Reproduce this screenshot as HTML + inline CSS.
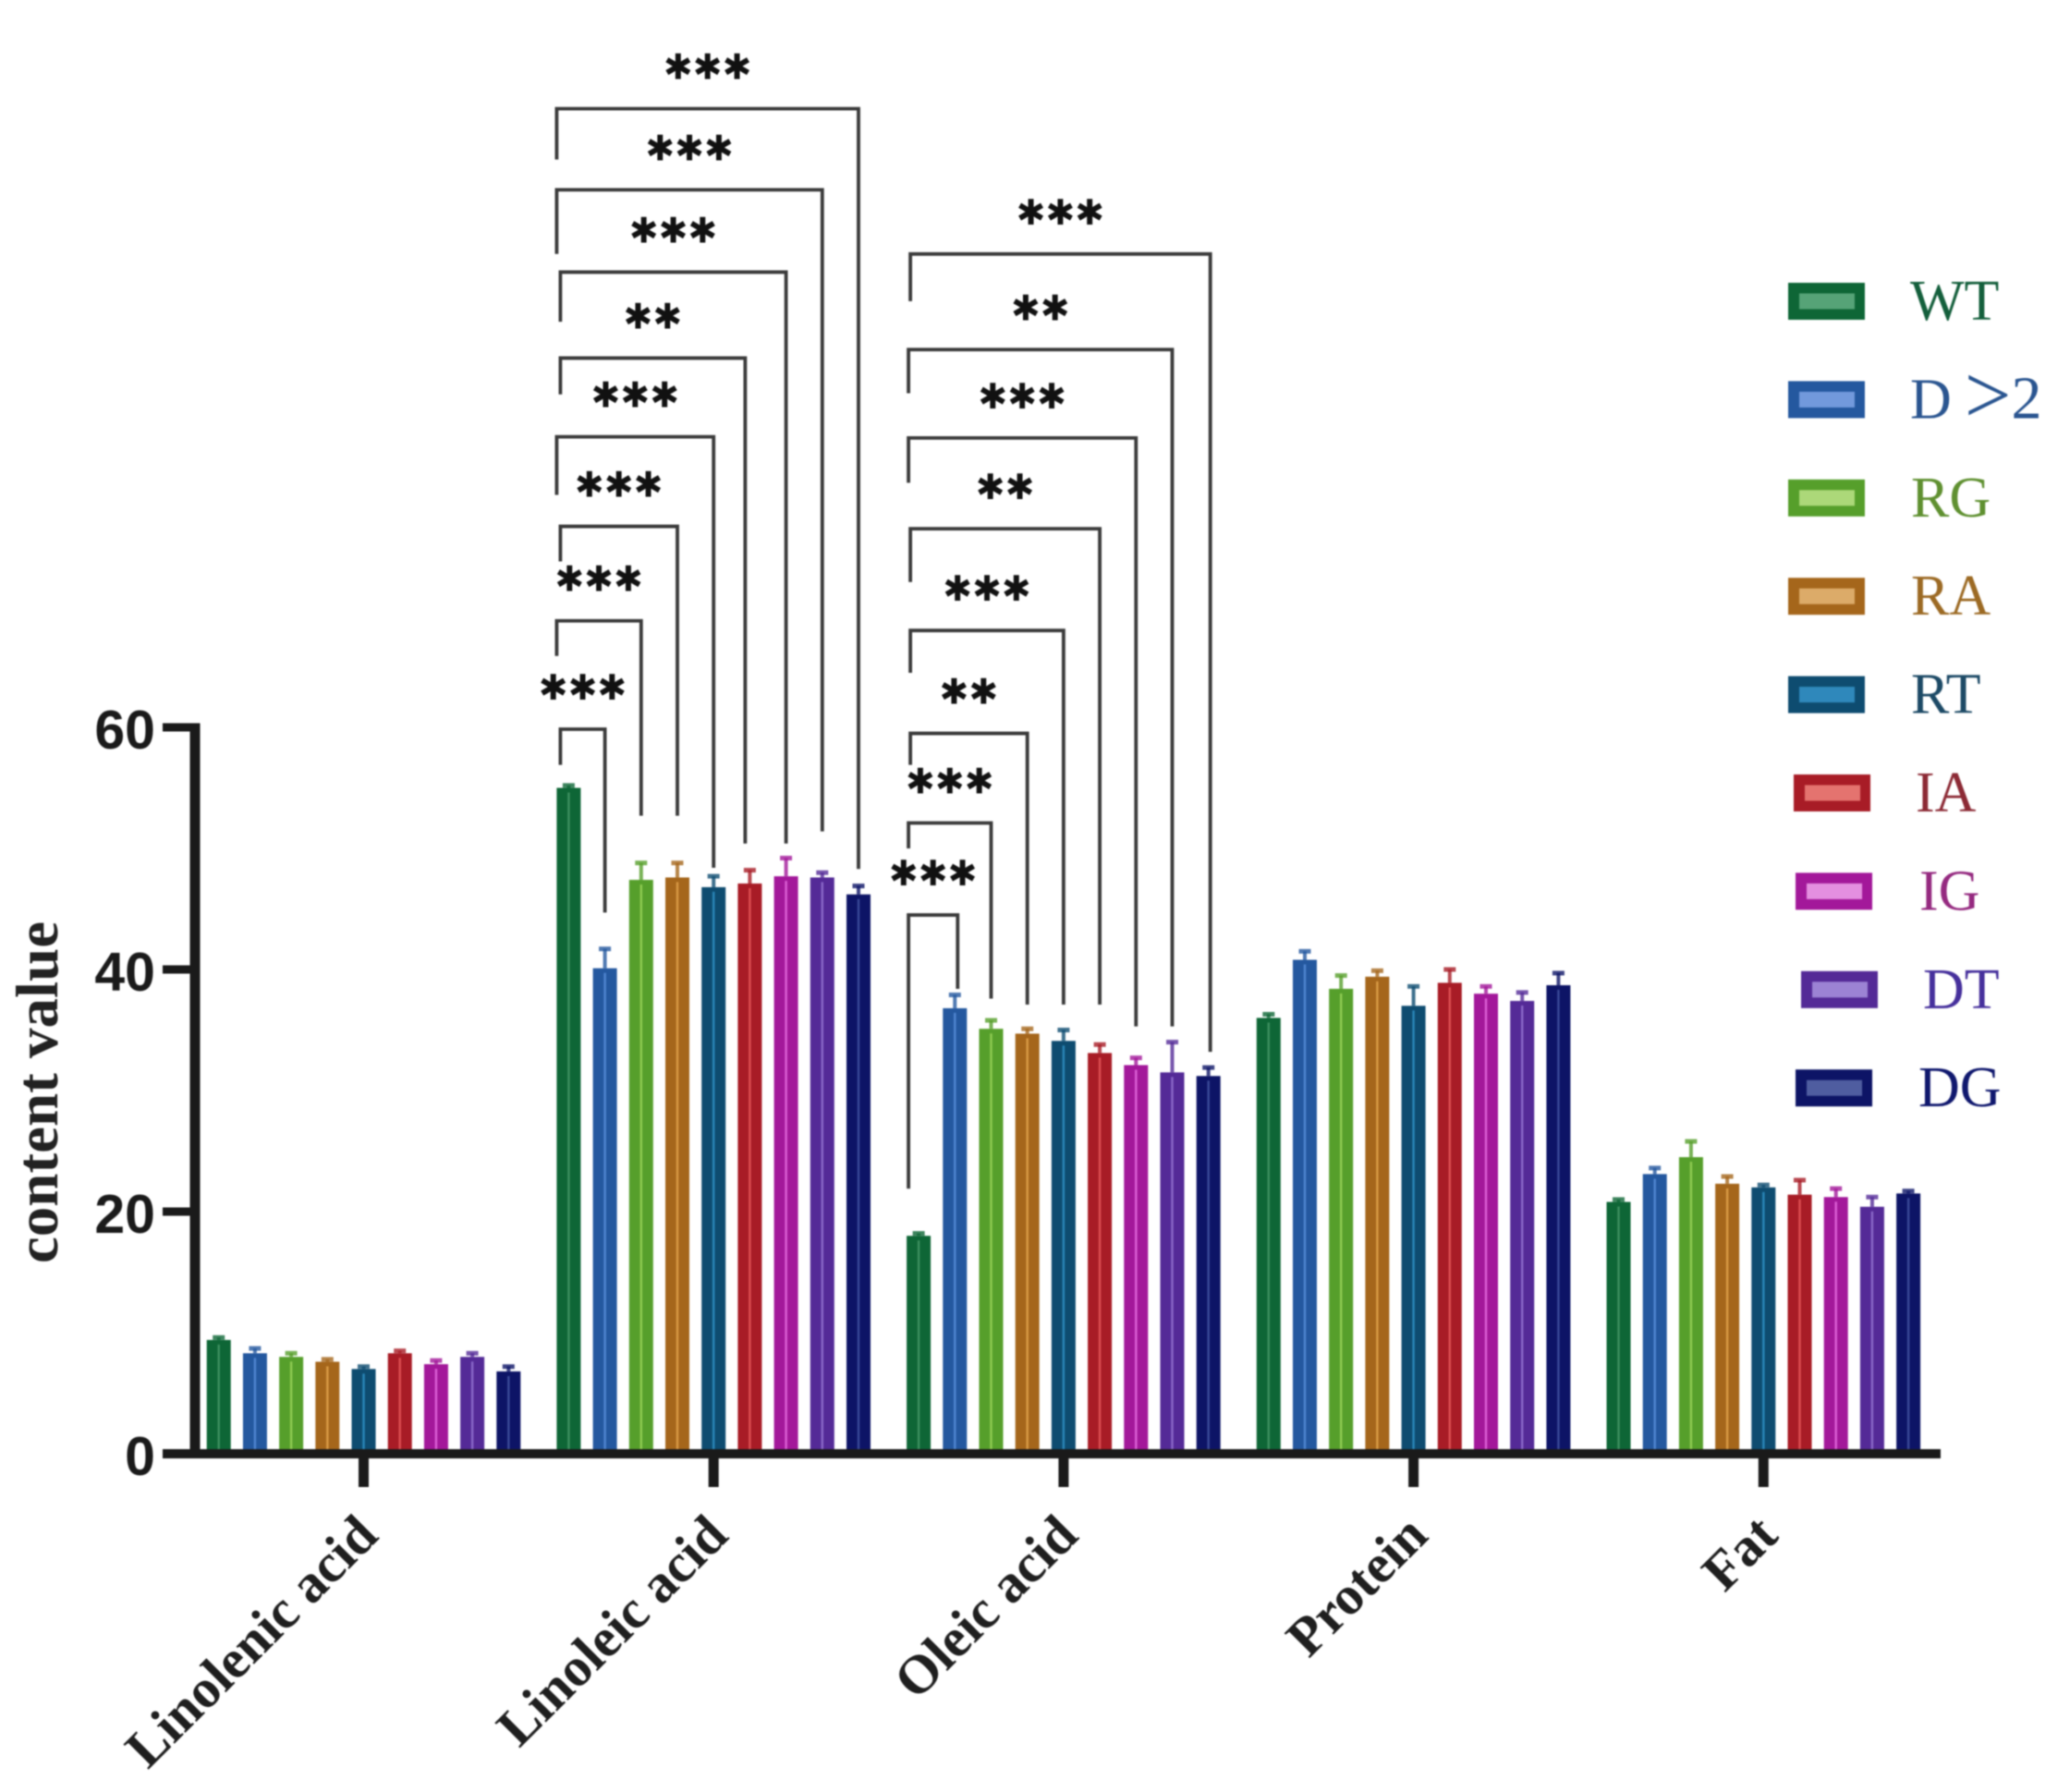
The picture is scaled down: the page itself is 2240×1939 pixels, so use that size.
<!DOCTYPE html>
<html lang="en">
<head>
<meta charset="utf-8">
<title>Content value bar chart</title>
<style>
html,body{margin:0;padding:0;background:#fff;width:2240px;height:1939px;overflow:hidden}
#chart{display:block;filter:blur(.7px)}
</style>
</head>
<body>
<svg id="chart" xmlns="http://www.w3.org/2000/svg" width="2240" height="1939" viewBox="0 0 2240 1939"></svg>
<script>
// ---- data ----
const categories = ['Linolenic acid', 'Linoleic acid', 'Oleic acid', 'Protein', 'Fat'];
const seriesNames = ['WT', 'D>2', 'RG', 'RA', 'RT', 'IA', 'IG', 'DT', 'DG'];
const yTicks = [0, 20, 40, 60];
const yLabels = ['0', '20', '40', '60'];

const valuesWT = [9.4, 55.0, 18.0, 36.0, 20.8];
const valuesD2 = [8.3, 40.1, 36.8, 40.8, 23.1];
const valuesRG = [8.0, 47.4, 35.1, 38.4, 24.5];
const valuesRA = [7.6, 47.6, 34.7, 39.4, 22.3];
const valuesRT = [7.0, 46.8, 34.1, 37.0, 22.0];
const valuesIA = [8.3, 47.1, 33.1, 38.9, 21.4];
const valuesIG = [7.4, 47.7, 32.1, 38.0, 21.2];
const valuesDT = [8.0, 47.6, 31.5, 37.4, 20.4];
const valuesDG = [6.8, 46.2, 31.2, 38.7, 21.5];

const errorsWT = [0.2, 0.2, 0.2, 0.3, 0.2];
const errorsD2 = [0.4, 1.6, 1.1, 0.7, 0.5];
const errorsRG = [0.3, 1.4, 0.7, 1.1, 1.3];
const errorsRA = [0.2, 1.2, 0.4, 0.5, 0.6];
const errorsRT = [0.2, 0.9, 0.9, 1.6, 0.2];
const errorsIA = [0.2, 1.1, 0.7, 1.1, 1.2];
const errorsIG = [0.3, 1.5, 0.6, 0.6, 0.7];
const errorsDT = [0.3, 0.4, 2.5, 0.7, 0.8];
const errorsDG = [0.4, 0.7, 0.7, 1.0, 0.2];

// significance brackets, WT vs. each later series, levels in axis units
const linoleicTargets = [1, 2, 3, 4, 5, 6, 7, 8];
const linoleicStars = ['***', '***', '***', '***', '**', '***', '***', '***'];
const linoleicTop = [59.85, 68.8, 76.6, 84.0, 90.5, 97.6, 104.4, 111.1];
const linoleicLeftEnd = [56.9, 65.9, 73.7, 79.2, 87.5, 93.5, 99.1, 106.9];
const linoleicRightEnd = [44.7, 52.7, 52.7, 48.4, 50.4, 50.4, 51.4, 48.3];

const oleicTargets = [1, 2, 3, 4, 5, 6, 7, 8];
const oleicStars = ['***', '***', '**', '***', '**', '***', '**', '***'];
const oleicTop = [44.5, 52.1, 59.5, 68.0, 76.4, 83.9, 91.2, 99.1];
const oleicLeftEnd = [21.9, 50.0, 56.9, 64.5, 72.0, 80.2, 87.6, 95.2];
const oleicRightEnd = [38.4, 37.6, 37.1, 37.1, 37.1, 35.3, 35.3, 33.2];

// ---- styles / layout ----
const allValues = [valuesWT, valuesD2, valuesRG, valuesRA, valuesRT, valuesIA, valuesIG, valuesDT, valuesDG];
const allErrors = [errorsWT, errorsD2, errorsRG, errorsRA, errorsRT, errorsIA, errorsIG, errorsDT, errorsDG];
const barColors = ['#0e6636', '#24589f', '#569f2b', '#a5661b', '#0e4c70', '#a81c26', '#a3189a', '#542a97', '#0d1466'];
const stripeColors = ['#3d8f5f', '#4f85d0', '#8fcb52', '#d99a45', '#2a86b8', '#dc4f52', '#dc5fd6', '#8a68c8', '#3a4a98'];
const legendInner = ['#56a377', '#7299dc', '#acd879', '#dcab69', '#2f88bb', '#e4736f', '#e48fe0', '#9c83d4', '#4f5da0'];
const legendText = ['#145f3c', '#2a5590', '#5f9030', '#9c6a24', '#1d4a66', '#8c2a35', '#952a80', '#46309c', '#10186e'];
const legendSwatchX = [1935, 1935, 1935, 1935, 1935, 1941, 1943, 1949, 1943];
const legendLabelX = [2067, 2067, 2068, 2068, 2068, 2073, 2077, 2081, 2076];
const linoleicLeftNudge = [-9, -13, -9, -13, -9, -9, -13, -13];
const linoleicRightNudge = [0, 0, 0, 0, -5, 0, 0, 0];
const oleicLeftNudge = [-11, -11, -9, -9, -9, -11, -11, -9];
const oleicRightNudge = [3, 0, 0, 0, 0, 0, 0, 2];

const svg = document.getElementById('chart');
const NS = 'http://www.w3.org/2000/svg';
const yZero = 1573, pxPerUnit = 13.1;
const firstTick = 393.5, tickStep = 378.7, barStep = 39.2, barWidth = 26;
const y = v => yZero - v * pxPerUnit;
const groupX = g => firstTick + g * tickStep;
const barX = (g, s) => groupX(g) + (s - 4) * barStep;

function mk(tag, attrs, parent) {
  const el = document.createElementNS(NS, tag);
  for (const k in attrs) el.setAttribute(k, attrs[k]);
  (parent || svg).appendChild(el);
  return el;
}

// ---- bars & error bars ----
categories.forEach((cat, g) => {
  seriesNames.forEach((name, s) => {
    const v = allValues[s][g], e = allErrors[s][g], cx = barX(g, s), col = barColors[s];
    const stem = mk('line', {x1: cx, x2: cx, y1: y(v), y2: y(v + e), stroke: col, 'stroke-width': 4, 'stroke-opacity': .8});
    
    
    const cap = mk('line', {x1: cx - 6.5, x2: cx + 6.5, y1: y(v + e), y2: y(v + e), stroke: col, 'stroke-width': 5, 'stroke-opacity': .8});
    
    
    const bar = mk('rect', {x: cx - barWidth / 2, y: y(v), width: barWidth, height: yZero - y(v), fill: col});
    
    
    const stripe = mk('rect', {x: cx - 1.2, y: y(v) + 5, width: 2.4, height: yZero - y(v) - 5, fill: stripeColors[s]});
    
    
  });
});

// ---- axes ----
const axisColor = '#1a1a1a';
const yAxis = mk('line', {x1: 211, x2: 211, y1: y(60) - 4.5, y2: yZero + 5, stroke: axisColor, 'stroke-width': 11});


const xAxis = mk('line', {x1: 176, x2: 2100, y1: yZero, y2: yZero, stroke: axisColor, 'stroke-width': 10});



yTicks.forEach((t, i) => {
  if (t !== 0) {
    const tick = mk('line', {x1: 176, x2: 211, y1: y(t), y2: y(t), stroke: axisColor, 'stroke-width': 9});
    
    
  }
  const lab = mk('text', {x: 168, y: y(t) + 23, 'text-anchor': 'end', 'font-family': '"Liberation Sans", sans-serif', 'font-weight': 700, 'font-size': 59, fill: '#1a1a1a'});
  lab.textContent = yLabels[i];
  
  
});

const yTitle = mk('text', {transform: 'translate(62 1182) rotate(-90)', 'text-anchor': 'middle', 'font-family': '"Liberation Serif", serif', 'font-weight': 700, 'font-size': 65, fill: '#222'});
yTitle.textContent = 'content value';



categories.forEach((cat, g) => {
  const tx = groupX(g);
  const tick = mk('line', {x1: tx, x2: tx, y1: yZero, y2: 1609, stroke: axisColor, 'stroke-width': 11});
  
  
  const lab = mk('text', {transform: `translate(${tx + 18} 1664) rotate(-45)`, 'text-anchor': 'end', 'font-family': '"Liberation Serif", serif', 'font-weight': 700, 'font-size': 59, fill: '#1f1f1f'});
  lab.textContent = cat;
  
  
});

// ---- significance brackets ----
function brackets(g, targets, stars, top, leftEnd, rightEnd, leftNudge, rightNudge) {
  targets.forEach((target, i) => {
    const lx = barX(g, 0) + leftNudge[i];
    const rx = barX(g, target) + rightNudge[i];
    const path = mk('path', {d: `M${lx} ${y(leftEnd[i])}V${y(top[i])}H${rx}V${y(rightEnd[i])}`, fill: 'none', stroke: '#3a3a3a', 'stroke-width': 3.8});
    
    
    const t = mk('text', {x: (lx + rx) / 2, y: y(top[i]) - 32, 'text-anchor': 'middle', 'font-family': '"DejaVu Sans", sans-serif', 'font-size': 38, fill: '#111'});
    t.textContent = '\u2731'.repeat(stars[i].length);
    
    
  });
}
brackets(1, linoleicTargets, linoleicStars, linoleicTop, linoleicLeftEnd, linoleicRightEnd, linoleicLeftNudge, linoleicRightNudge);
brackets(2, oleicTargets, oleicStars, oleicTop, oleicLeftEnd, oleicRightEnd, oleicLeftNudge, oleicRightNudge);

// ---- legend ----
seriesNames.forEach((name, s) => {
  const cy = 326 + s * 106.4;
  const sx = legendSwatchX[s];
  const outer = mk('rect', {x: sx, y: cy - 20, width: 83, height: 40, fill: barColors[s]});
  
  
  const inner = mk('rect', {x: sx + 12, y: cy - 8.5, width: 60, height: 17, fill: legendInner[s]});
  
  
  const lab = mk('text', {x: legendLabelX[s], y: cy + 20, 'font-family': '"Liberation Serif", serif', 'font-size': 62, fill: legendText[s]});
  
  
  if (name === 'D>2') {
    lab.appendChild(document.createTextNode('D'));
    const gt = mk('tspan', {'font-size': 90, dx: 14, dy: 5}, lab);
    gt.textContent = '>';
    const two = mk('tspan', {'font-size': 66, dx: 0, dy: -5}, lab);
    two.textContent = '2';
  } else {
    lab.textContent = name;
  }
});
</script>
</body>
</html>
